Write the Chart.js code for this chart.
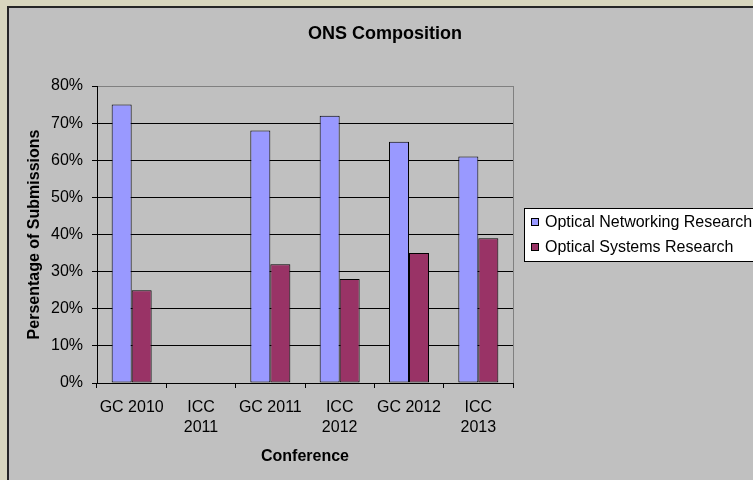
<!DOCTYPE html>
<html>
<head>
<meta charset="utf-8">
<script src="https://cdn.jsdelivr.net/npm/chart.js@4"></script>
<style>
  html, body { margin: 0; padding: 0; overflow: hidden; background: #d8d6be; }
  #wrap { width: 770px; height: 480px; position: relative; }
</style>
</head>
<body>
<div id="wrap"><canvas id="c" width="770" height="480"></canvas></div>
<script>
const categories = [["GC 2010"], ["ICC", "2011"], ["GC 2011"], ["ICC", "2012"], ["GC 2012"], ["ICC", "2013"]];
const networkingValues = [75, null, 68, 72, 65, 61];
const systemsValues = [25, null, 32, 28, 35, 39];
const seriesNames = ["Optical Networking Research", "Optical Systems Research"];
const yTicks = [0, 10, 20, 30, 40, 50, 60, 70, 80];

const FONT = "'Liberation Sans', Arial, sans-serif";

const backgroundPlugin = {
  id: 'bg',
  beforeDraw(chart) {
    const ctx = chart.ctx;
    ctx.save();
    ctx.fillStyle = '#d8d6be';
    ctx.fillRect(0, 0, chart.width, chart.height);
    ctx.fillStyle = '#c0c0c0';
    ctx.fillRect(8, 7, chart.width, chart.height);
    ctx.strokeStyle = '#262626';
    ctx.lineWidth = 2;
    ctx.strokeRect(8, 7, chart.width + 20, chart.height + 20);
    ctx.restore();
  },
  beforeDatasetsDraw(chart) {
    const a = chart.chartArea;
    const ctx = chart.ctx;
    ctx.save();
    ctx.strokeStyle = '#808080';
    ctx.lineWidth = 1;
    ctx.beginPath();
    ctx.moveTo(Math.round(a.right) + 0.5, a.top);
    ctx.lineTo(Math.round(a.right) + 0.5, a.bottom);
    ctx.stroke();
    ctx.restore();
  }
};

const legendPlugin = {
  id: 'boxLegend',
  afterDraw(chart) {
    const ctx = chart.ctx;
    ctx.save();
    ctx.fillStyle = '#ffffff';
    ctx.fillRect(524, 208, 300, 53);
    ctx.strokeStyle = '#000';
    ctx.lineWidth = 1;
    ctx.strokeRect(524.5, 208.5, 300, 53);
    ctx.font = '16px ' + FONT;
    ctx.textBaseline = 'middle';
    ctx.textAlign = 'left';
    const rows = [222, 247];
    chart.data.datasets.forEach((ds, i) => {
      const y = rows[i];
      ctx.fillStyle = ds.backgroundColor;
      ctx.fillRect(531, y - 4, 8, 8);
      ctx.strokeStyle = '#000';
      ctx.strokeRect(531.5, y - 3.5, 7, 7);
      ctx.fillStyle = '#000';
      ctx.fillText(ds.label, 545, y + 1);
    });
    ctx.restore();
  }
};

new Chart(document.getElementById('c'), {
  type: 'bar',
  data: {
    labels: categories,
    datasets: [
      { label: seriesNames[0], data: networkingValues, backgroundColor: '#9999ff', borderColor: '#000', borderWidth: 1, borderSkipped: false, categoryPercentage: 0.577, barPercentage: 1.0 },
      { label: seriesNames[1], data: systemsValues, backgroundColor: '#993366', borderColor: '#000', borderWidth: 1, borderSkipped: false, categoryPercentage: 0.577, barPercentage: 1.0 }
    ]
  },
  options: {
    responsive: false,
    animation: false,
    devicePixelRatio: 1,
    layout: { padding: 0 },
    plugins: {
      legend: { display: false },
      tooltip: { enabled: false },
      title: {
        display: true,
        text: 'ONS Composition',
        color: '#000',
        font: { family: FONT, size: 18, weight: 'bold', lineHeight: 1.2 },
        padding: { top: 23, bottom: 41.4 }
      }
    },
    scales: {
      x: {
        grid: { display: true, drawOnChartArea: false, offset: true, tickLength: 5, tickColor: '#000', color: '#000' },
        border: { display: true, color: '#000', width: 1 },
        ticks: { color: '#000', font: { family: FONT, size: 16, lineHeight: 1.25 }, padding: 10, maxRotation: 0, autoSkip: false },
        title: { display: true, text: 'Conference', color: '#000', font: { family: FONT, size: 16, weight: 'bold', lineHeight: 1.2 }, padding: { top: 0, bottom: 14 } },
        afterFit(scale) { scale.height = 97; }
      },
      y: {
        min: 0, max: 80,
        afterBuildTicks(scale) { scale.ticks = yTicks.map(v => ({ value: v })); },
        grid: {
          color: (c) => (c.tick && c.tick.value === 80) ? '#808080' : '#000',
          tickColor: '#000', tickLength: 5, lineWidth: 1
        },
        border: { display: true, color: '#000', width: 1 },
        ticks: { color: '#000', font: { family: FONT, size: 16 }, padding: 9, callback: (v) => v + '%' },
        title: { display: true, text: 'Persentage of Submissions', color: '#000', font: { family: FONT, size: 16, weight: 'bold', lineHeight: 1.2 }, padding: { top: 25.4, bottom: 0 } },
        afterFit(scale) { scale.width = 97; }
      },
      spacer: {
        type: 'linear',
        position: 'right',
        display: true,
        grid: { display: false, drawTicks: false },
        border: { display: false },
        ticks: { display: false },
        title: { display: false },
        afterFit(scale) { scale.width = 257; }
      }
    }
  },
  plugins: [backgroundPlugin, legendPlugin]
});
</script>
</body>
</html>
